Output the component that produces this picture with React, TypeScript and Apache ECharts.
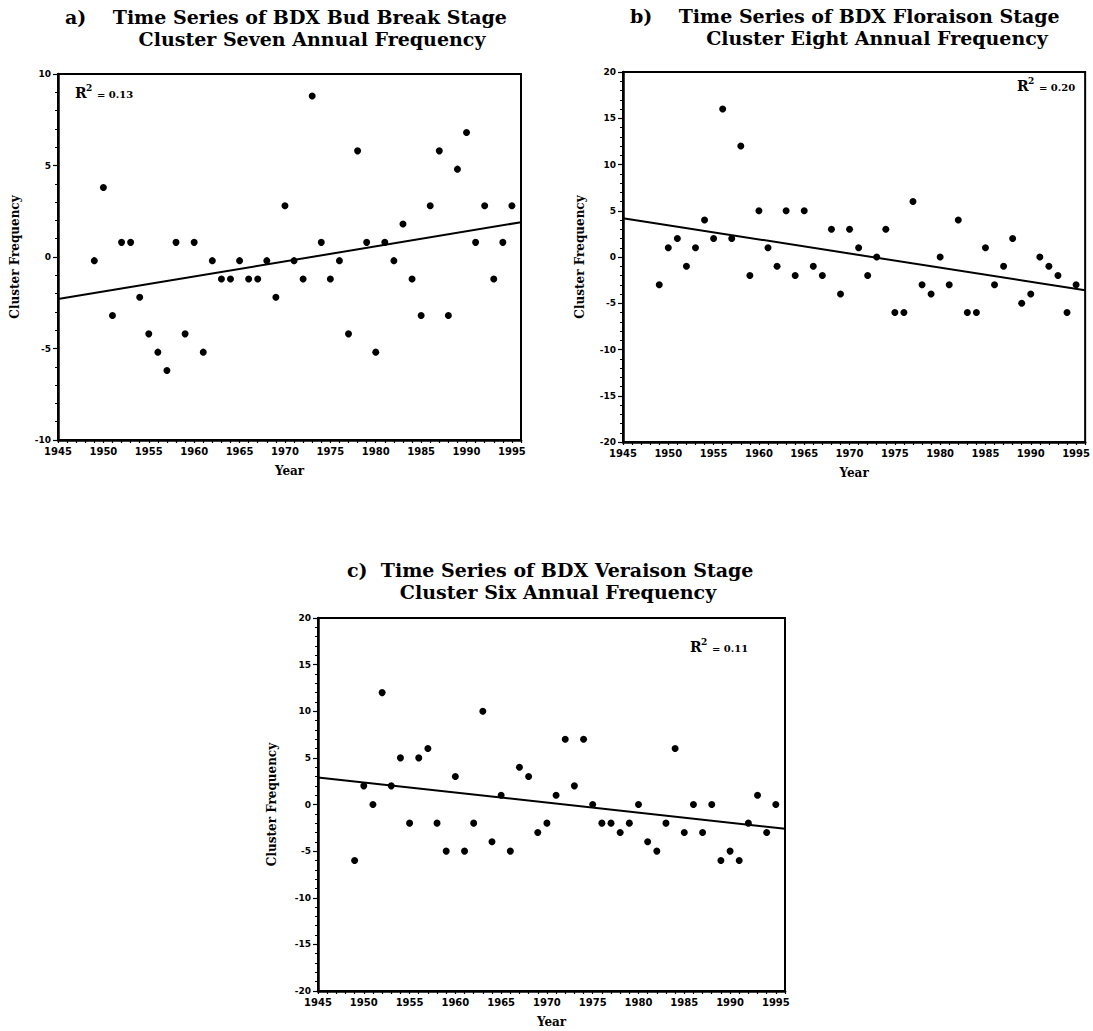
import React, { useEffect, useRef } from "react";
import * as echarts from "echarts";

// ---- data ----
const years = [
  1949, 1950, 1951, 1952, 1953, 1954, 1955, 1956, 1957, 1958, 1959, 1960,
  1961, 1962, 1963, 1964, 1965, 1966, 1967, 1968, 1969, 1970, 1971, 1972,
  1973, 1974, 1975, 1976, 1977, 1978, 1979, 1980, 1981, 1982, 1983, 1984,
  1985, 1986, 1987, 1988, 1989, 1990, 1991, 1992, 1993, 1994, 1995,
];

const budBreakValues = [
  -0.2, 3.8, -3.2, 0.8, 0.8, -2.2, -4.2, -5.2, -6.2, 0.8, -4.2, 0.8,
  -5.2, -0.2, -1.2, -1.2, -0.2, -1.2, -1.2, -0.2, -2.2, 2.8, -0.2, -1.2,
  8.8, 0.8, -1.2, -0.2, -4.2, 5.8, 0.8, -5.2, 0.8, -0.2, 1.8, -1.2,
  -3.2, 2.8, 5.8, -3.2, 4.8, 6.8, 0.8, 2.8, -1.2, 0.8, 2.8,
];

const floraisonValues = [
  -3, 1, 2, -1, 1, 4, 2, 16, 2, 12, -2, 5,
  1, -1, 5, -2, 5, -1, -2, 3, -4, 3, 1, -2,
  0, 3, -6, -6, 6, -3, -4, 0, -3, 4, -6, -6,
  1, -3, -1, 2, -5, -4, 0, -1, -2, -6, -3,
];

const veraisonValues = [
  -6, 2, 0, 12, 2, 5, -2, 5, 6, -2, -5, 3,
  -5, -2, 10, -4, 1, -5, 4, 3, -3, -2, 1, 7,
  2, 7, 0, -2, -2, -3, -2, 0, -4, -5, -2, 6,
  -3, 0, -3, 0, -6, -5, -6, -2, 1, -3, 0,
];

const trendYears = [1945, 1996];
const budBreakTrend = [-2.3, 1.9];
const floraisonTrend = [4.2, -3.6];
const veraisonTrend = [2.9, -2.6];

const xTickLabels = [1945, 1950, 1955, 1960, 1965, 1970, 1975, 1980, 1985, 1990, 1995];
const yTicksA = [-10, -5, 0, 5, 10];
const yTicksBC = [-20, -15, -10, -5, 0, 5, 10, 15, 20];

const titlesLine1 = [
  "a)    Time Series of BDX Bud Break Stage",
  "b)    Time Series of BDX Floraison Stage",
  "c)  Time Series of BDX Veraison Stage",
];
const titlesLine2 = [
  "Cluster Seven Annual Frequency",
  "Cluster Eight Annual Frequency",
  "Cluster Six Annual Frequency",
];
const rSquared = ["= 0.13", "= 0.20", "= 0.11"];

// ---- layout ----
const grids = [
  { left: 58, top: 74, width: 463, height: 366 },
  { left: 623, top: 72, width: 466, height: 370 },
  { left: 318, top: 618, width: 467, height: 373 },
];

const SERIF = "'DejaVu Serif', 'Liberation Serif', serif";
const SANS = "'DejaVu Sans', 'Liberation Sans', sans-serif";

function xAxis(i: number) {
  return {
    gridIndex: i,
    type: "value",
    min: 1945,
    max: 1996,
    interval: 1,
    name: "Year",
    nameLocation: "middle",
    nameGap: 25,
    nameTextStyle: { fontFamily: SERIF, fontWeight: "bold", fontSize: 12, color: "#000" },
    axisLine: { show: true, onZero: false, lineStyle: { color: "#000", width: 2.5 } },
    axisTick: { show: true, length: 3, lineStyle: { color: "#000", width: 1.2 } },
    axisLabel: {
      customValues: xTickLabels,
      formatter: (v: number) => String(v),
      fontFamily: SANS,
      fontWeight: "bold",
      fontSize: 10,
      color: "#000",
      margin: 6,
    },
    splitLine: { show: false },
  };
}

function yAxis(i: number, min: number, max: number, ticks: number[]) {
  return {
    gridIndex: i,
    type: "value",
    min,
    max,
    interval: 5,
    name: "Cluster Frequency",
    nameLocation: "middle",
    nameGap: i === 2 ? 40 : 37,
    nameRotate: 90,
    nameTextStyle: { fontFamily: SERIF, fontWeight: "bold", fontSize: 12, color: "#000" },
    axisLine: { show: true, onZero: false, lineStyle: { color: "#000", width: 2.5 } },
    axisTick: { show: true, length: 5, lineStyle: { color: "#000", width: 1.2 } },
    minorTick: { show: true, splitNumber: 5, length: 3, lineStyle: { color: "#000", width: 1 } },
    axisLabel: {
      customValues: ticks,
      formatter: (v: number) => String(v),
      fontFamily: SANS,
      fontWeight: "bold",
      fontSize: 9,
      color: "#000",
      margin: 7,
    },
    splitLine: { show: false },
  };
}

function scatter(i: number, vals: number[]) {
  return {
    type: "scatter",
    xAxisIndex: i,
    yAxisIndex: i,
    symbol: "circle",
    symbolSize: 7,
    itemStyle: { color: "#000", opacity: 1 },
    data: years.map((y, k) => [y, vals[k]]),
  };
}

function trend(i: number, vals: number[]) {
  return {
    type: "line",
    xAxisIndex: i,
    yAxisIndex: i,
    symbol: "none",
    lineStyle: { color: "#000", width: 2 },
    data: trendYears.map((y, k) => [y, vals[k]]),
  };
}

function text(x: number, y: number, t: string, size: number, align = "left", weight = "bold") {
  return {
    type: "text",
    x,
    y,
    style: {
      text: t,
      fontFamily: SERIF,
      fontSize: size,
      fontWeight: weight,
      fill: "#000",
      textAlign: align,
      align,
      textVerticalAlign: "middle",
      verticalAlign: "middle",
    },
  };
}

function rLabel(x: number, y: number, value: string) {
  return [text(x, y, "R", 14), text(x + 11, y - 5, "2", 9), text(x + 22, y + 1, value, 10)];
}

export default function App() {
  const ref = useRef<HTMLDivElement>(null);
  useEffect(() => {
    if (!ref.current) return;
    const chart = echarts.init(ref.current, null, { renderer: "svg" });
    chart.setOption({
      animation: false,
      backgroundColor: "#fff",
      grid: grids.map((g) => ({
        ...g,
        show: true,
        borderColor: "#000",
        borderWidth: 2,
        backgroundColor: "transparent",
        containLabel: false,
      })),
      xAxis: [xAxis(0), xAxis(1), xAxis(2)],
      yAxis: [yAxis(0, -10, 10, yTicksA), yAxis(1, -20, 20, yTicksBC), yAxis(2, -20, 20, yTicksBC)],
      series: [
        scatter(0, budBreakValues),
        trend(0, budBreakTrend),
        scatter(1, floraisonValues),
        trend(1, floraisonTrend),
        scatter(2, veraisonValues),
        trend(2, veraisonTrend),
      ],
      graphic: [
        text(65, 17, titlesLine1[0], 19),
        text(312, 39, titlesLine2[0], 19, "center"),
        text(630, 16, titlesLine1[1], 19),
        text(877, 38, titlesLine2[1], 19, "center"),
        text(347, 570, titlesLine1[2], 19),
        text(558, 592, titlesLine2[2], 19, "center"),
        ...rLabel(75, 93, rSquared[0]),
        ...rLabel(1017, 86, rSquared[1]),
        ...rLabel(690, 647, rSquared[2]),
      ],
    });
    return () => chart.dispose();
  }, []);
  return (
    <div
      ref={ref}
      style={{ position: "absolute", left: 0, top: 0, width: 1093, height: 1031 }}
    />
  );
}
